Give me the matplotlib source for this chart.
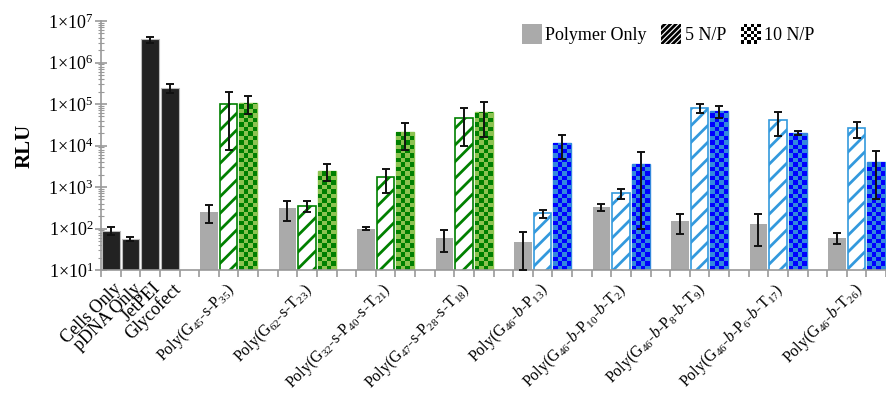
import numpy as np
import matplotlib
matplotlib.use("Agg")
import matplotlib.pyplot as plt
from matplotlib.patches import Patch, Rectangle
from matplotlib.collections import PatchCollection
from matplotlib.legend_handler import HandlerBase
from matplotlib.ticker import NullFormatter

plt.rcParams["font.family"] = ["Liberation Serif", "DejaVu Serif"]
plt.rcParams["mathtext.fontset"] = "custom"
plt.rcParams["mathtext.rm"] = "Liberation Serif"
plt.rcParams["mathtext.it"] = "Liberation Serif:italic"
plt.rcParams["mathtext.bf"] = "Liberation Serif:bold"
plt.rcParams["hatch.linewidth"] = 2.0

# ---- data (RLU, mean and error) ----
controls = ["Cells Only", "pDNA Only", "JetPEI", "Glycofect"]
control_rlu = [88, 56, 3.6e6, 2.45e5]
control_err = [20, 6, 0.6e6, 0.6e5]

polymers = [
    r"Poly(G$_{45}$-s-P$_{35}$)",
    r"Poly(G$_{62}$-s-T$_{23}$)",
    r"Poly(G$_{32}$-s-P$_{40}$-s-T$_{21}$)",
    r"Poly(G$_{47}$-s-P$_{28}$-s-T$_{18}$)",
    r"Poly(G$_{46}$-$b$-P$_{13}$)",
    r"Poly(G$_{46}$-$b$-P$_{10}$-$b$-T$_{2}$)",
    r"Poly(G$_{46}$-$b$-P$_{8}$-$b$-T$_{9}$)",
    r"Poly(G$_{46}$-$b$-P$_{6}$-$b$-T$_{17}$)",
    r"Poly(G$_{46}$-$b$-T$_{26}$)",
]
architecture = ["statistical"] * 4 + ["block"] * 5

polymer_only = [250, 310, 100, 60, 46, 330, 150, 130, 60]
polymer_only_err = [115, 155, 10, 33, 36, 60, 78, 92, 18]
np5 = [1.0e5, 350, 1.7e3, 4.5e4, 230, 700, 8.0e4, 4.1e4, 2.6e4]
np5_err = [9.2e4, 100, 1.0e3, 3.5e4, 50, 200, 2.0e4, 2.4e4, 1.1e4]
np10 = [1.07e5, 2.45e3, 2.1e4, 6.3e4, 1.13e4, 3.6e3, 6.8e4, 2.0e4, 4.0e3]
np10_err = [5.0e4, 1.05e3, 1.3e4, 4.7e4, 6.5e3, 3.5e3, 2.1e4, 2.5e3, 3.5e3]

palette = {
    "statistical": dict(line="#008000", light="#8dc351", dark="#008000"),
    "block": dict(line="#3399dd", light="#3388dd", dark="#0000ff"),
}

BAR_W = 0.9
YMIN, YMAX = 10, 1e7


def checker(ax, bar, dark, ncols=4, step=0.108):
    """Fill a bar with a checkerboard of dark squares (log y axis)."""
    x0, w = bar.get_x(), bar.get_width()
    top = np.log10(bar.get_y() + bar.get_height())
    nrows = int(np.ceil((top - np.log10(YMIN)) / step))
    cells = []
    for r in range(nrows):
        lo = 10 ** (np.log10(YMIN) + r * step)
        hi = 10 ** (np.log10(YMIN) + (r + 1) * step)
        for c in range(ncols):
            if (r + c) % 2 == 0:
                cells.append(Rectangle((x0 + c * w / ncols, lo), w / ncols, hi - lo))
    pc = PatchCollection(cells, facecolor=dark, edgecolor="none", zorder=2.1)
    ax.add_collection(pc)
    pc.set_clip_path(bar)


class CheckerHandler(HandlerBase):
    def create_artists(self, legend, orig_handle, xdescent, ydescent,
                       width, height, fontsize, trans):
        n = 6
        out = []
        for i in range(n):
            for j in range(n):
                if (i + j) % 2 == 0:
                    out.append(Rectangle((-xdescent + i * width / n, -ydescent + j * height / n),
                                         width / n, height / n, facecolor="black",
                                         lw=0, transform=trans))
        return out


fig = plt.figure(figsize=(8.86, 3.96), dpi=100)
ax = fig.add_axes([101 / 886, 1 - 270 / 396, 785 / 886, 249 / 396])
ax.set_yscale("log")

# controls
cx = np.arange(len(controls))
ax.bar(cx, control_rlu, width=BAR_W, color="#222222", edgecolor="#bbbbbb", lw=0.8, zorder=2)
ax.errorbar(cx, control_rlu, yerr=control_err, fmt="none", ecolor="#111111",
            elinewidth=1.4, capsize=3, capthick=1.4, zorder=4)

# polymer groups: polymer only, 5 N/P, 10 N/P
label_pos = list(cx + 0.1)
for k, name in enumerate(polymers):
    base = 5 + 4 * k
    c = palette[architecture[k]]
    ax.bar(base, polymer_only[k], width=BAR_W, color="#aaaaaa", lw=0, zorder=2)
    ax.bar(base + 1, np5[k], width=BAR_W, facecolor="white", edgecolor=c["line"],
           hatch="//", lw=1.2, zorder=2)
    b10 = ax.bar(base + 2, np10[k], width=BAR_W, facecolor=c["light"],
                 edgecolor=c["light"], lw=1, zorder=2)[0]
    checker(ax, b10, c["dark"])
    ax.errorbar([base, base + 1, base + 2],
                [polymer_only[k], np5[k], np10[k]],
                yerr=[polymer_only_err[k], np5_err[k], np10_err[k]],
                fmt="none", ecolor="#111111", elinewidth=1.4, capsize=3,
                capthick=1.4, zorder=4)
    label_pos.append(base + 0.8)

ax.set_ylim(YMIN, YMAX)
ax.set_xlim(-0.5, 39.15)

# axes styling
for s in ["top", "right"]:
    ax.spines[s].set_visible(False)
for s in ["left", "bottom"]:
    ax.spines[s].set_color("#999999")
    ax.spines[s].set_linewidth(1.2)

ax.set_yticks([10 ** k for k in range(1, 8)],
              [rf"1×10$^{{{k}}}$" for k in range(1, 8)], fontsize=13)
ax.yaxis.set_minor_formatter(NullFormatter())
ax.tick_params(axis="y", which="major", direction="inout", length=9, width=1.2,
               color="#999999", pad=1)
ax.tick_params(axis="y", which="minor", direction="inout", length=4, width=0.8,
               color="#999999")

ax.set_xticks(np.arange(-0.5, 40, 1), minor=True)
ax.set_xticks(label_pos, controls + polymers, rotation=45,
              ha="right", rotation_mode="anchor")
for i, lab in enumerate(ax.get_xticklabels()):
    lab.set_fontsize(13 if i < len(controls) else 11.5)
ax.tick_params(axis="x", which="major", length=0, pad=7)
ax.tick_params(axis="x", which="minor", direction="out", length=5, width=1.2,
               color="#999999")

ax.set_ylabel("RLU", fontsize=15, fontweight="bold")
ax.yaxis.set_label_coords((35 - 101) / 785, 0.5)

handles = [Patch(facecolor="#aaaaaa", lw=0),
           Patch(facecolor="white", edgecolor="black", hatch="//////", lw=0),
           Patch(facecolor="white")]
fig.legend(handles, ["Polymer Only", "5 N/P", "10 N/P"], ncol=3,
           loc="upper left", bbox_to_anchor=(522 / 886, 1 - 24 / 396),
           frameon=False, fontsize=13, handlelength=1.1, handleheight=1.3,
           handletextpad=0.2, columnspacing=0.8, borderpad=0, borderaxespad=0,
           handler_map={handles[2]: CheckerHandler()})

fig.savefig("out.png", dpi=100)
